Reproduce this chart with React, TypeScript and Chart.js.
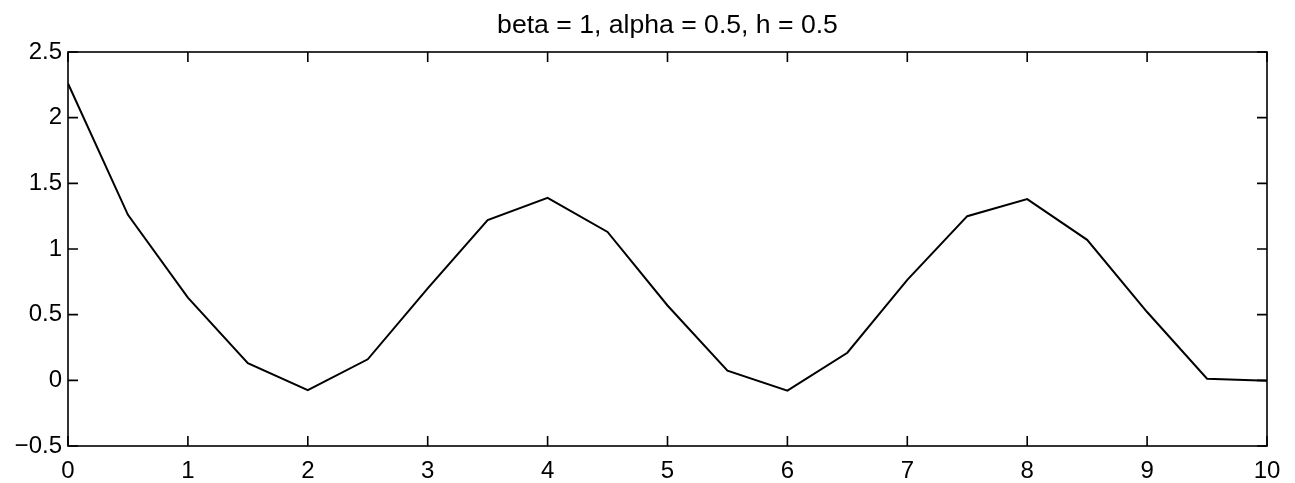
import React, { useEffect, useRef } from "react";
import { Chart, registerables } from "chart.js";

Chart.register(...registerables);

const titleText = "beta = 1, alpha = 0.5, h = 0.5";
const xValues = [0, 0.5, 1, 1.5, 2, 2.5, 3, 3.5, 4, 4.5, 5, 5.5, 6, 6.5, 7, 7.5, 8, 8.5, 9, 9.5, 10];
const yValues = [2.26, 1.26, 0.63, 0.13, -0.075, 0.16, 0.7, 1.22, 1.39, 1.13, 0.57, 0.073, -0.079, 0.21, 0.765, 1.25, 1.38, 1.07, 0.52, 0.012, -0.003];
const xTickValues = [0, 1, 2, 3, 4, 5, 6, 7, 8, 9, 10];
const yTickValues = [-0.5, 0, 0.5, 1, 1.5, 2, 2.5];

const FONT = "'Liberation Sans', Arial, Helvetica, sans-serif";

const framePlugin = {
  id: "frameTicks",
  afterDraw(chart: any) {
    const { ctx, chartArea } = chart;
    const { left, right, top, bottom } = chartArea;
    const xs = chart.scales.x;
    const ys = chart.scales.y;
    const len = 10;
    ctx.save();
    ctx.strokeStyle = "#000";
    ctx.lineWidth = 1.6;
    ctx.strokeRect(left, top, right - left, bottom - top);
    ctx.beginPath();
    xTickValues.forEach((v) => {
      const px = xs.getPixelForValue(v);
      ctx.moveTo(px, bottom);
      ctx.lineTo(px, bottom - len);
      ctx.moveTo(px, top);
      ctx.lineTo(px, top + len);
    });
    yTickValues.forEach((v) => {
      const py = ys.getPixelForValue(v);
      ctx.moveTo(left, py);
      ctx.lineTo(left + len, py);
      ctx.moveTo(right, py);
      ctx.lineTo(right - len, py);
    });
    ctx.stroke();
    // title centred over the plot area
    ctx.fillStyle = "#000";
    ctx.font = `26.6px ${FONT}`;
    ctx.textAlign = "center";
    ctx.textBaseline = "alphabetic";
    ctx.fillText(titleText, (left + right) / 2, 33);
    ctx.restore();
  },
};

export default function App() {
  const ref = useRef<HTMLCanvasElement | null>(null);
  useEffect(() => {
    if (!ref.current) return;
    const points = xValues.map((x, i) => ({ x, y: yValues[i] }));
    const chart = new Chart(ref.current, {
      type: "scatter",
      data: {
        datasets: [
          {
            data: points,
            showLine: true,
            borderColor: "#000",
            borderWidth: 2,
            pointRadius: 0,
            fill: false,
            tension: 0,
          },
        ],
      },
      options: {
        responsive: false,
        animation: false,
        layout: { padding: { top: 52, right: 28, bottom: 0, left: 0 } },
        plugins: {
          legend: { display: false },
          tooltip: { enabled: false },
          title: { display: false },
        },
        scales: {
          x: {
            type: "linear",
            min: 0,
            max: 10,
            afterBuildTicks: (s: any) => {
              s.ticks = xTickValues.map((v) => ({ value: v }));
            },
            afterFit: (s: any) => {
              s.height = 37;
            },
            grid: { display: false, drawTicks: false },
            border: { display: false },
            ticks: {
              color: "#000",
              font: { family: FONT, size: 24 },
              padding: 11,
              maxRotation: 0,
              autoSkip: false,
              callback: (v: any) => String(v),
            },
          },
          y: {
            type: "linear",
            min: -0.5,
            max: 2.5,
            afterBuildTicks: (s: any) => {
              s.ticks = yTickValues.map((v) => ({ value: v }));
            },
            afterFit: (s: any) => {
              s.width = 68;
            },
            grid: { display: false, drawTicks: false },
            border: { display: false },
            ticks: {
              color: "#000",
              font: { family: FONT, size: 24 },
              padding: 6,
              autoSkip: false,
              callback: (v: any) => String(v).replace("-", "\u2212"),
            },
          },
        },
      },
      plugins: [framePlugin],
    });
    return () => chart.destroy();
  }, []);
  return (
    <div style={{ position: "absolute", left: 0, top: 0, width: 1295, height: 483, background: "#fff" }}>
      <canvas ref={ref} width={1295} height={483} style={{ display: "block" }} />
    </div>
  );
}
